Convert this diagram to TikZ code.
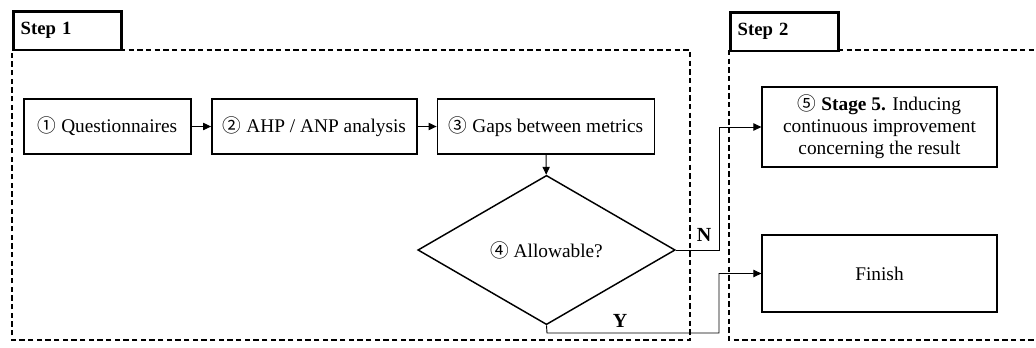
\documentclass[tikz,border=0pt]{standalone}
\usepackage{fontspec}
\setmainfont{Liberation Serif}
\newfontfamily\circfont{Noto Sans CJK JP}
\usetikzlibrary{shapes.geometric,arrows.meta}
\newcommand{\circno}[1]{{\circfont\fontsize{14}{14}\selectfont #1}}
\tikzset{
  box/.style={draw, line width=1.1pt, align=center, inner sep=2pt, font=\fontsize{14.5}{16.5}\selectfont},
  tab/.style={draw, line width=2pt, anchor=north west, minimum width=81pt, minimum height=29pt,
    text width=70pt, align=left, font=\bfseries\fontsize{14}{16}\selectfont},
  frame/.style={dashed, line width=1.1pt, dash pattern=on 4pt off 2.5pt},
  link/.style={-{Triangle[length=6pt,width=5.5pt]}, line width=0.7pt}
}
\begin{document}
\begin{tikzpicture}[x=0.75pt,y=-0.75pt]
\useasboundingbox (0,0) rectangle (1036,347);
% step frames
\draw[frame] (120,50) -- (690,50) -- (690,340) -- (12,340) -- (12,50);
\draw[frame] (838,50) -- (1036,50);
\draw[frame] (729,50) -- (729,340) -- (1036,340);
\node[tab] (step1) at (12,10) {Step 1};
\node[tab] (step2) at (729,11) {Step 2};
% process boxes
\node[box, minimum width=125pt, minimum height=41pt] (quest) at (107.5,126.5) {\circno{①} Questionnaires};
\node[box, minimum width=154pt, minimum height=41pt] (ahp) at (314.5,126.5) {\circno{②} AHP / ANP analysis};
\node[box, minimum width=163pt, minimum height=41pt] (gaps) at (546,126.5) {\circno{③} Gaps between metrics};
\node[draw, diamond, line width=1.1pt, inner sep=0pt, minimum width=193pt, minimum height=112pt,
  font=\fontsize{14.5}{16.5}\selectfont] (allow) at (546.5,250) {\circno{④} Allowable?};
\node[box, minimum width=176pt, minimum height=60pt] (stage5) at (879.5,127)
  {\circno{⑤} \textbf{Stage 5.} Inducing\\continuous improvement\\concerning the result};
\node[box, minimum width=176pt, minimum height=58pt] (finish) at (879.5,273.5) {Finish};
% connectors
\coordinate (nturn) at (719,250);
\coordinate (ydown) at (547,333);
\coordinate (yturn) at (719,333);
\draw[link] (quest) -- (ahp);
\draw[link] (ahp) -- (gaps);
\draw[link] (gaps) -- (allow);
\draw[link] (allow.east) -- (nturn) |- (stage5.west);
\draw[link] (allow.south) -- (ydown) -- (yturn) |- (finish.west);
\node[font=\bfseries\fontsize{15}{17}\selectfont] (nlab) at (704,235) {N};
\node[font=\bfseries\fontsize{15}{17}\selectfont] (ylab) at (620,321) {Y};
\end{tikzpicture}
\end{document}
